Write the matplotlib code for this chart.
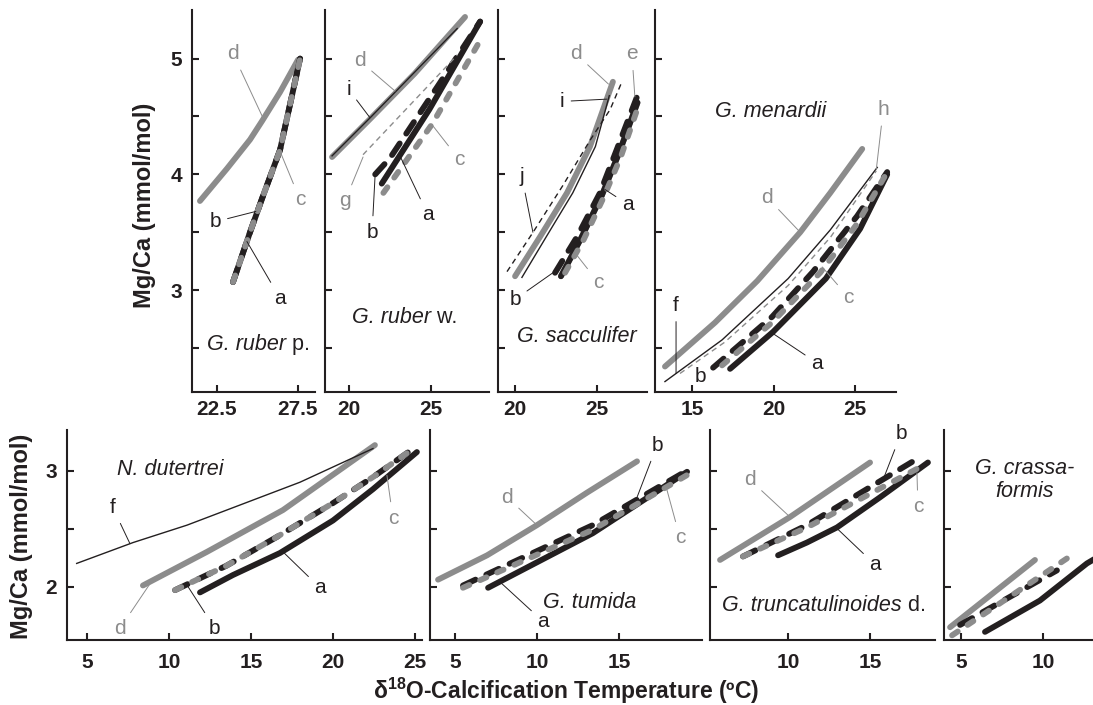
import matplotlib
matplotlib.use("Agg")
import matplotlib.pyplot as plt

plt.rcParams["font.family"] = ["Liberation Sans", "DejaVu Sans"]
plt.rcParams["mathtext.fontset"] = "custom"
plt.rcParams["mathtext.rm"] = "Liberation Sans"
plt.rcParams["mathtext.it"] = "Liberation Sans:italic"
plt.rcParams["mathtext.bf"] = "Liberation Sans:bold"
plt.rcParams["lines.scale_dashes"] = False

BLACK = "#231f20"
GRAY = "#8c8c8c"

# Mg/Ca (mmol/mol) vs calcification temperature (degC), one dict per species
# curve letter -> (temperatures, Mg/Ca)
RUBER_P = {
    "d": ([21.45, 23.12, 24.54, 25.28, 26.39, 27.5], [3.77, 4.05, 4.30, 4.46, 4.71, 4.99]),
    "a": ([23.49, 24.54, 25.28, 26.39, 27.63], [3.07, 3.50, 3.79, 4.21, 5.0]),
    "b": ([23.49, 24.54, 25.28, 26.39, 27.63], [3.07, 3.50, 3.79, 4.21, 5.0]),
    "c": ([23.49, 24.54, 25.28, 26.39, 27.63], [3.07, 3.50, 3.79, 4.21, 5.0]),
}
RUBER_W = {
    "d": ([18.97, 21.3, 24.0, 27.08], [4.15, 4.48, 4.87, 5.36]),
    "i": ([18.97, 21.3, 26.6], [4.16, 4.49, 5.26]),
    "g": ([20.86, 26.6], [4.17, 5.03]),
    "a": ([22.0, 24.9, 28.0], [3.92, 4.56, 5.32]),
    "b": ([21.6, 22.5, 25.5, 28.0], [4.0, 4.14, 4.78, 5.32]),
    "c": ([22.1, 25.1, 27.85], [3.84, 4.44, 5.12]),
}
SACCULIFER = {
    "d": ([20.0, 21.52, 23.17, 24.57, 25.97], [3.12, 3.46, 3.84, 4.24, 4.80]),
    "j": ([19.51, 21.1, 22.9, 24.6, 25.8, 26.52], [3.16, 3.50, 3.90, 4.30, 4.56, 4.80]),
    "i": ([20.42, 21.9, 23.52, 24.9, 25.75], [3.11, 3.46, 3.84, 4.24, 4.68]),
    "e": ([22.8, 24.0, 25.3, 26.33, 27.47], [3.12, 3.44, 3.82, 4.18, 4.62]),
    "a": ([22.8, 24.0, 25.3, 26.33, 27.47], [3.12, 3.44, 3.82, 4.18, 4.62]),
    "b": ([22.44, 23.78, 25.18, 26.22, 27.44], [3.15, 3.46, 3.84, 4.22, 4.67]),
    "c": ([23.05, 24.2, 25.4, 26.45, 27.5], [3.15, 3.44, 3.80, 4.15, 4.58]),
}
MENARDII = {
    "d": ([13.34, 16.41, 19.0, 21.63, 23.47, 25.43], [2.34, 2.72, 3.08, 3.50, 3.84, 4.22]),
    "f": ([13.34, 16.84, 20.89, 23.47, 26.35], [2.21, 2.57, 3.10, 3.52, 4.06]),
    "h": ([14.26, 17.0, 20.89, 23.5, 26.29], [2.28, 2.55, 3.04, 3.46, 4.03]),
    "a": ([17.33, 19.97, 23.2, 25.3, 26.96], [2.32, 2.64, 3.10, 3.53, 4.0]),
    "b": ([16.29, 19.91, 22.42, 25.12, 26.96], [2.33, 2.77, 3.16, 3.64, 4.02]),
    "c": ([16.84, 19.9, 22.85, 25.1, 26.84], [2.35, 2.72, 3.15, 3.57, 3.99]),
}
DUTERTREI = {
    "f": ([4.37, 7.81, 11.1, 17.99, 22.44], [2.20, 2.38, 2.53, 2.90, 3.19]),
    "d": ([8.41, 12.32, 16.95, 22.56], [2.01, 2.30, 2.66, 3.22]),
    "a": ([11.89, 13.9, 16.77, 20.0, 22.44, 25.12], [1.95, 2.10, 2.29, 2.57, 2.84, 3.16]),
    "b": ([10.37, 13.5, 16.6, 20.0, 22.5, 25.0], [1.97, 2.18, 2.43, 2.72, 2.95, 3.20]),
    "c": ([10.37, 13.5, 16.6, 20.0, 22.5, 25.0], [1.97, 2.18, 2.43, 2.72, 2.95, 3.20]),
}
TUMIDA = {
    "d": ([3.97, 6.96, 10.0, 13.05, 16.1], [2.06, 2.27, 2.53, 2.81, 3.08]),
    "a": ([7.02, 13.4, 19.15], [1.99, 2.46, 2.99]),
    "b": ([5.49, 13.4, 19.15], [2.01, 2.53, 3.0]),
    "c": ([5.49, 13.4, 19.5], [1.99, 2.49, 2.99]),
}
TRUNCATULINOIDES = {
    "d": ([5.85, 10.12, 15.0], [2.23, 2.60, 3.07]),
    "a": ([9.39, 11.15, 12.98, 15.61, 18.53], [2.27, 2.38, 2.51, 2.77, 3.07]),
    "b": ([7.25, 11.15, 17.74], [2.26, 2.53, 3.09]),
    "c": ([7.25, 11.15, 17.92], [2.26, 2.51, 3.02]),
}
CRASSAFORMIS = {
    "d": ([4.33, 9.51], [1.65, 2.23]),
    "a": ([6.46, 9.81, 12.68, 13.4], [1.61, 1.88, 2.20, 2.26]),
    "b": ([4.94, 10.85], [1.67, 2.14]),
    "c": ([4.45, 11.64], [1.58, 2.26]),
}

# curve letter -> line style
STYLE = {
    "d": dict(color=GRAY, lw=4.2, solid_capstyle="round", zorder=2),
    "e": dict(color=GRAY, lw=4.2, solid_capstyle="round", zorder=2),
    "a": dict(color=BLACK, lw=4.2, solid_capstyle="round", zorder=3),
    "b": dict(color=BLACK, lw=4.2, ls=(0, (10, 8.5)), dash_capstyle="round", zorder=4),
    "c": dict(color=GRAY, lw=4.2, ls=(0, (5, 8.5)), dash_capstyle="round", zorder=5),
    "f": dict(color=BLACK, lw=1.0, zorder=6),
    "i": dict(color=BLACK, lw=1.0, zorder=6),
    "g": dict(color=GRAY, lw=1.0, ls=(0, (4, 3)), zorder=6),
    "h": dict(color=GRAY, lw=1.0, ls=(0, (4, 3)), zorder=6),
    "j": dict(color=BLACK, lw=1.0, ls=(0, (4, 3)), zorder=6),
}
GRAY_LABELS = set("cdegh")

W, H = 1093, 705

# (curves, box in pixels [left, right, bottom, top], xlim, xticks, row,
#  species (italic name, plain suffix, xy, ha), leader labels (letter, text xy, curve xy))
PANELS = [
    (RUBER_P, (192, 315, 392, 10), (20.96, 28.55), [22.5, 27.5], "top",
     ("G. ruber", " p.", (21.89, 2.53), "left"),
     [("d", (23.5, 5.04), (25.3, 4.5)), ("b", (22.38, 3.59), (24.9, 3.68)),
      ("c", (27.63, 3.78), (26.39, 4.2)), ("a", (26.39, 2.93), (24.35, 3.42))]),
    (RUBER_W, (325, 489, 392, 10), (18.54, 28.54), [20, 25], "top",
     ("G. ruber", " w.", (20.19, 2.76), "left"),
     [("d", (20.67, 4.98), (22.81, 4.72)), ("i", (20.0, 4.73), (21.28, 4.49)),
      ("g", (19.76, 3.77), (20.86, 4.15)), ("b", (21.41, 3.50), (21.59, 3.98)),
      ("a", (24.82, 3.65), (23.11, 4.16)), ("c", (26.71, 4.13), (25.06, 4.43))]),
    (SACCULIFER, (498, 647, 392, 10), (18.96, 28.05), [20, 25], "top",
     ("G. sacculifer", "", (23.78, 2.60), "center"),
     [("d", (23.72, 5.04), (25.7, 4.78)), ("e", (27.13, 5.04), (27.31, 4.67)),
      ("i", (22.86, 4.63), (25.6, 4.65)), ("j", (20.42, 3.98), (21.09, 3.50)),
      ("a", (26.89, 3.74), (25.48, 3.87)), ("b", (20.0, 2.92), (22.31, 3.15)),
      ("c", (25.06, 3.07), (23.78, 3.30))]),
    (MENARDII, (655, 896, 392, 10), (12.73, 27.5), [15, 20, 25], "top",
     ("G. menardii", "", (19.79, 4.54), "center"),
     [("d", (19.6, 3.80), (21.63, 3.50)), ("h", (26.72, 4.56), (26.29, 4.04)),
      ("c", (24.57, 2.94), (22.98, 3.20)), ("a", (22.67, 2.37), (19.91, 2.63)),
      ("f", (14.02, 2.87), (14.02, 2.28)), ("b", (15.49, 2.25), (16.35, 2.34))]),
    (DUTERTREI, (67, 422, 640, 430), (3.78, 25.43), [5, 10, 15, 20, 25], "bottom",
     ("N. dutertrei", "", (10.06, 3.01), "center"),
     [("f", (6.58, 2.68), (7.62, 2.37)), ("d", (7.01, 1.64), (8.96, 2.05)),
      ("b", (12.8, 1.64), (11.16, 2.0)), ("a", (19.21, 1.99), (16.95, 2.3)),
      ("c", (23.66, 2.59), (23.29, 2.96))]),
    (TUMIDA, (430, 702, 640, 430), (3.48, 20.06), [5, 10, 15], "bottom",
     ("G. tumida", "", (13.24, 1.86), "center"),
     [("d", (8.18, 2.77), (10.0, 2.53)), ("b", (17.32, 3.22), (16.1, 2.77)),
      ("c", (18.72, 2.42), (17.93, 2.83)), ("a", (10.37, 1.70), (7.75, 2.04))]),
    (TRUNCATULINOIDES, (710, 935, 640, 430), (5.24, 18.96), [10, 15], "bottom",
     ("G. truncatulinoides", " d.", (5.97, 1.84), "left"),
     [("d", (7.68, 2.92), (10.12, 2.60)), ("b", (16.89, 3.32), (15.79, 2.92)),
      ("c", (17.92, 2.69), (17.86, 2.98)), ("a", (15.3, 2.19), (12.92, 2.51))]),
    (CRASSAFORMIS, (944, 1093, 640, 430), (3.96, 13.05), [5, 10], "bottom",
     ("G. crassa-\nformis", "", (8.9, 2.92), "center"), []),
]

ROWS = {
    "top": dict(ylim=(2.12, 5.42), yticks=[2.5, 3, 3.5, 4, 4.5, 5], xpad=6),
    "bottom": dict(ylim=(1.54, 3.35), yticks=[2, 2.5, 3], xpad=9),
}

fig = plt.figure(figsize=(W / 100, H / 100), dpi=100)

for i, (curves, box, xlim, xticks, row, species, labels) in enumerate(PANELS):
    left, right, bottom, top = box
    ax = fig.add_axes([left / W, 1 - bottom / H, (right - left) / W, (bottom - top) / H])
    cfg = ROWS[row]
    ax.set_xlim(*xlim)
    ax.set_ylim(*cfg["ylim"])

    for letter, (t, mg) in curves.items():
        ax.plot(t, mg, **STYLE[letter])

    for letter, txt_xy, pt_xy in labels:
        col = GRAY if letter in GRAY_LABELS else BLACK
        ax.annotate(letter, xy=pt_xy, xytext=txt_xy, ha="center", va="center",
                    fontsize=15, color=col, zorder=8,
                    arrowprops=dict(arrowstyle="-", color=col, lw=0.7,
                                    shrinkA=3, shrinkB=0))

    name, suffix, sp_xy, sp_ha = species
    name_txt = ax.text(*sp_xy, name, ha=sp_ha, va="center", fontsize=15.5,
                       style="italic", color=BLACK, linespacing=1.1, zorder=8)
    if suffix:
        ax.annotate(suffix, xy=(1, 0), xycoords=name_txt, ha="left", va="bottom",
                    fontsize=15.5, color=BLACK, zorder=8)

    for s in ("top", "right"):
        ax.spines[s].set_visible(False)
    for s in ("left", "bottom"):
        ax.spines[s].set_linewidth(1.5)
        ax.spines[s].set_color(BLACK)

    ax.set_xticks(xticks)
    ax.set_xticklabels([f"{v:g}" for v in xticks])
    yt = cfg["yticks"]
    ax.set_yticks(yt)
    first = i in (0, 4)
    ax.set_yticklabels([f"{v:g}" if (first and float(v).is_integer()) else "" for v in yt])
    ax.tick_params(direction="in", length=5, width=1.5, color=BLACK,
                   labelsize=15, labelcolor=BLACK)
    ax.tick_params(axis="x", pad=cfg["xpad"])
    ax.tick_params(axis="y", pad=7)
    for lab in ax.get_xticklabels() + ax.get_yticklabels():
        lab.set_fontweight("bold")

fig.text(145 / W, 1 - 205 / H, "Mg/Ca (mmol/mol)", rotation=90, ha="center",
         va="center", fontsize=17, fontweight="bold", color=BLACK)
fig.text(22 / W, 1 - 536 / H, "Mg/Ca (mmol/mol)", rotation=90, ha="center",
         va="center", fontsize=17, fontweight="bold", color=BLACK)
fig.text(566 / W, 1 - 691 / H,
         r"$\mathbf{\delta}^{\mathbf{18}}$O-Calcification Temperature (ºC)",
         ha="center", va="center", fontsize=16.5, fontweight="bold", color=BLACK)

fig.savefig("out.png", dpi=100, facecolor="white")
